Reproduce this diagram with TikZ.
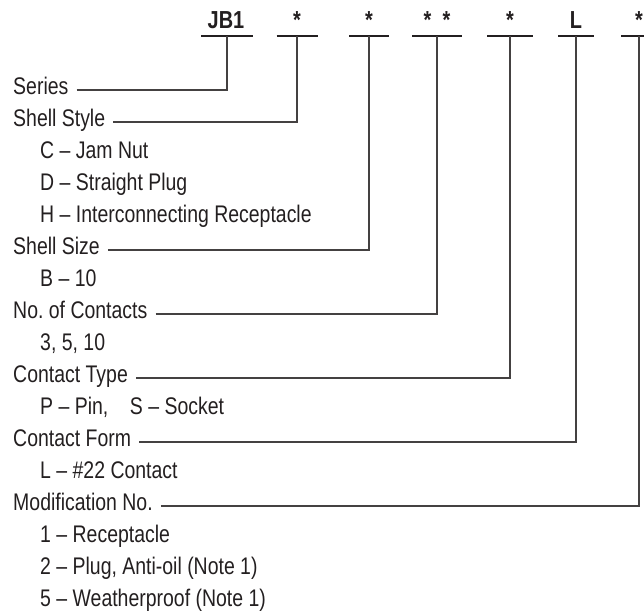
\documentclass[tikz,border=0pt]{standalone}
\usepackage{fontspec}
\setmainfont{Liberation Sans}[FakeStretch=0.81]
\usepackage{xcolor}
\usetikzlibrary{math}
\definecolor{ink}{HTML}{231F20}

\begin{document}
\begin{tikzpicture}[x=0.03cm,y=-0.03cm,
  lab/.style={anchor=base west,inner sep=0pt,text=ink,font=\fontsize{20.5}{23}\selectfont},
  code/.style={anchor=base,inner sep=0pt,text=ink,font=\fontsize{21}{23}\selectfont\bfseries},
  conn/.style={draw=ink!85,line width=0.04cm},
  bar/.style={draw=ink,line width=0.075cm}]
\tikzmath{
\r=32;
\b=94;
\g=8;
}
\useasboundingbox (0,0) rectangle (644,611);

\foreach \n/\x/\w in {jb/227/52,style/297/41,size/369/40,num/437/50,type/510/46,form/576/36,mod/639/36}{
 \coordinate (\n) at (\x,36);
 \draw[bar] (\n) ++(-\w/2,0) -- ++(\w,0);
}

\node[code] (jbtxt) at (226,28) {JB1};
\node[code] (styletxt) at (297,28) {*};
\node[code] (sizetxt) at (369,28) {*};
\node[code] (numtxt) at (437,28) {*~~*};
\node[code] (typetxt) at (510,28) {*};
\node[code] (formtxt) at (576,28) {L};
\node[code] (modtxt) at (639,28) {*};

\node[lab] (series) at (13,\b) {Series};
\node[lab] (shell) at (13,\b+\r) {Shell Style};
\node[lab] (c) at (40,\b+2*\r) {C – Jam Nut};
\node[lab] (d) at (40,\b+3*\r) {D – Straight Plug};
\node[lab] (h) at (40,\b+4*\r) {H – Interconnecting Receptacle};
\node[lab] (shellsize) at (13,\b+5*\r) {Shell Size};
\node[lab] (bten) at (40,\b+6*\r) {B – 10};
\node[lab] (contacts) at (13,\b+7*\r) {No.\ of Contacts};
\node[lab] (counts) at (40,\b+8*\r) {3, 5, 10};
\node[lab] (ctype) at (13,\b+9*\r) {Contact Type};
\node[lab] (pins) at (40,\b+10*\r) {P – Pin,\hspace{0.9em}S – Socket};
\node[lab] (cform) at (13,\b+11*\r) {Contact Form};
\node[lab] (lform) at (40,\b+12*\r) {L – \#22 Contact};
\node[lab] (modno) at (13,\b+13*\r) {Modification No.};
\node[lab] (one) at (40,\b+14*\r) {1 – Receptacle};
\node[lab] (two) at (40,\b+15*\r) {2 – Plug, Anti-oil (Note 1)};
\node[lab] (five) at (40,\b+16*\r) {5 – Weatherproof (Note 1)};

\foreach \t/\c in {series/jb,shell/style,shellsize/size,contacts/num,ctype/type,cform/form,modno/mod}{
 \draw[conn] ([shift={(\g,-4)}]\t.base east) -| (\c);
}
\end{tikzpicture}
\end{document}
